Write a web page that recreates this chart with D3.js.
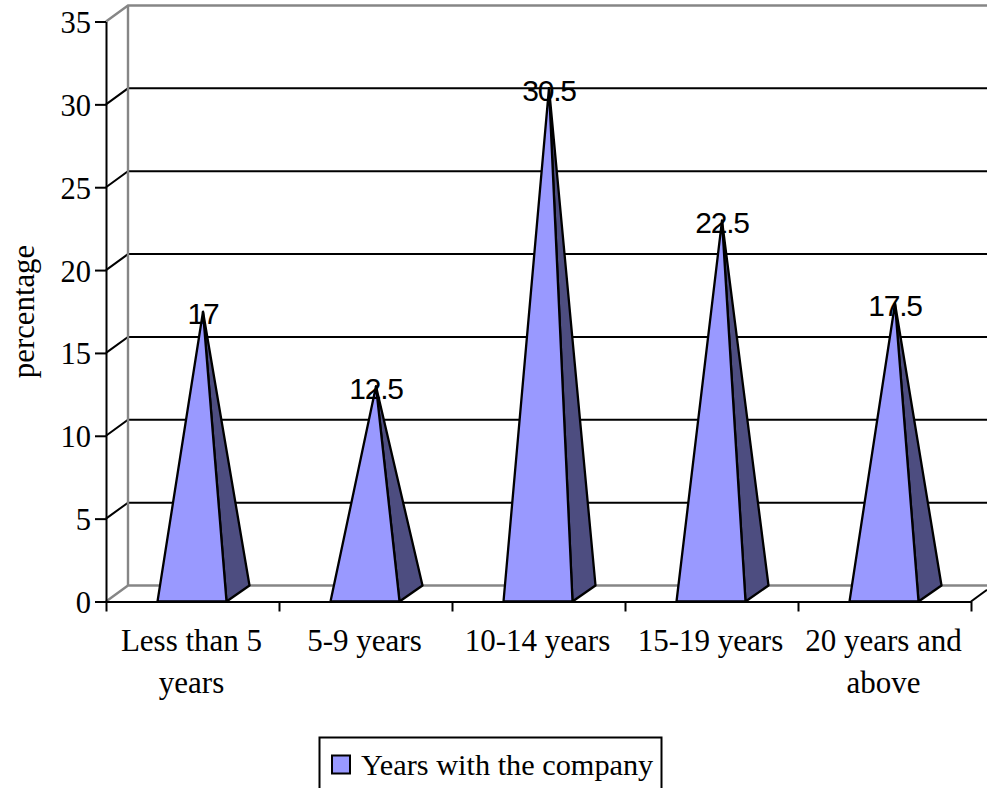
<!DOCTYPE html>
<html>
<head>
<meta charset="utf-8">
<script src="https://cdn.jsdelivr.net/npm/d3@7"></script>
<style>
body { margin: 0; background: #fff; }
svg { display: block; }
</style>
</head>
<body>
<div id="chart"></div>
<script>
var categories = [["Less than 5", "years"], ["5-9 years"], ["10-14 years"], ["15-19 years"], ["20 years and", "above"]];
var values = [17, 12.5, 30.5, 22.5, 17.5];
var valueLabels = ["17", "12.5", "30.5", "22.5", "17.5"];
var yTicks = [0, 5, 10, 15, 20, 25, 30, 35];
var seriesName = "Years with the company";

var width = 987, height = 788;
var serif = "'Liberation Serif', serif", sans = "'Liberation Sans', sans-serif";
var dx = 22, dy = -16; // depth of the 3d box

var svg = d3.select("#chart").append("svg")
    .attr("width", width)
    .attr("height", height);

var y = d3.scaleLinear().domain([0, 35]).range([601.5, 21.5]);
var x = d3.scaleBand().domain(d3.range(categories.length)).range([106, 971]);
var halfBase = 34.5;

function center(i) {
    return x(i) + x.bandwidth() / 2 - 0.5;
}

// back wall and floor
var line = function(p, stroke, w) {
    svg.append("path")
        .attr("d", d3.line()(p))
        .attr("fill", "none")
        .attr("stroke", stroke)
        .attr("stroke-width", w || 2);
};

yTicks.forEach(function(t) {
    if (t == 0 || t == 35) return;
    line([[106, y(t)], [106 + dx, y(t) + dy], [987, y(t) + dy]], "#000");
});
line([[106, y(0)], [106 + dx, y(0) + dy], [987, y(0) + dy]], "#868686", 2.4);
line([[106, y(35)], [106 + dx, y(35) + dy], [987, y(35) + dy]], "#868686", 2.4);
line([[106 + dx, y(0) + dy], [106 + dx, y(35) + dy]], "#868686", 2.4);
line([[971, y(0)], [987, y(0) + dy * 16 / dx]], "#000");

// pyramids
var bars = svg.selectAll("g.bar")
    .data(values)
    .enter()
    .append("g")
    .attr("class", "bar");

function apex(d, i) {
    return [center(i) + dx / 2, y(d) + dy / 2];
}

bars.append("path")
    .attr("d", function(d, i) {
        var c = center(i);
        return d3.line()([[c + halfBase, y(0)], [c + halfBase + dx + 1, y(0) + dy], apex(d, i)]) + "Z";
    })
    .attr("fill", "#4d4d80")
    .attr("stroke", "#000")
    .attr("stroke-width", 2.3)
    .attr("stroke-linejoin", "round");

bars.append("path")
    .attr("d", function(d, i) {
        var c = center(i);
        return d3.line()([[c - halfBase, y(0)], [c + halfBase, y(0)], apex(d, i)]) + "Z";
    })
    .attr("fill", "#9999ff")
    .attr("stroke", "#000")
    .attr("stroke-width", 2.3)
    .attr("stroke-linejoin", "round");

// axes
var yAxis = svg.append("g")
    .attr("transform", "translate(106,0)")
    .call(d3.axisLeft(y).tickValues(yTicks).tickSize(11).tickPadding(4).tickSizeOuter(0));
yAxis.selectAll("line, path").attr("stroke", "#000").attr("stroke-width", 2);
yAxis.selectAll("text")
    .attr("dy", "0.36em")
    .style("font-family", serif)
    .style("font-size", "30.5px")
    .attr("fill", "#000");

var xEdges = d3.range(categories.length + 1).map(function(i) { return 106 + i * x.step(); });
var xAxis = svg.append("g")
    .attr("transform", "translate(0," + y(0) + ")")
    .call(d3.axisBottom(d3.scaleLinear().domain([106, 971]).range([106, 971]))
        .tickValues(xEdges).tickSize(10).tickSizeOuter(0).tickFormat(""));
xAxis.selectAll("line, path").attr("stroke", "#000").attr("stroke-width", 2);

svg.append("g").selectAll("text")
    .data(categories)
    .enter()
    .append("text")
    .attr("text-anchor", "middle")
    .attr("x", function(d, i) { return center(i) - 0.5; })
    .attr("y", 651)
    .style("font-family", serif)
    .style("font-size", "31px")
    .each(function(d) {
        var t = d3.select(this), px = t.attr("x");
        d.forEach(function(s, j) {
            t.append("tspan").attr("x", px).attr("dy", j ? 42 : 0).text(s);
        });
    });

// value labels
svg.append("g").selectAll("text")
    .data(values)
    .enter()
    .append("text")
    .attr("text-anchor", "middle")
    .attr("x", function(d, i) { return apex(d, i)[0]; })
    .attr("y", function(d, i) { return apex(d, i)[1] + 12.5; })
    .style("font-family", sans)
    .style("font-size", "30px")
    .style("letter-spacing", "-1.2px")
    .text(function(d, i) { return valueLabels[i]; });

// axis title
svg.append("text")
    .attr("transform", "translate(33.5,311.5) rotate(-90)")
    .attr("text-anchor", "middle")
    .style("font-family", serif)
    .style("font-size", "30.8px")
    .text("percentage");

// legend
svg.append("rect")
    .attr("x", 319.5).attr("y", 737.5)
    .attr("width", 342).attr("height", 60)
    .attr("fill", "#fff").attr("stroke", "#000").attr("stroke-width", 2);
svg.append("rect")
    .attr("x", 332).attr("y", 755.5)
    .attr("width", 18).attr("height", 18)
    .attr("fill", "#9999ff").attr("stroke", "#000").attr("stroke-width", 2);
svg.append("text")
    .attr("x", 361).attr("y", 775)
    .style("font-family", serif)
    .style("font-size", "30.3px")
    .text(seriesName);
</script>
</body>
</html>
